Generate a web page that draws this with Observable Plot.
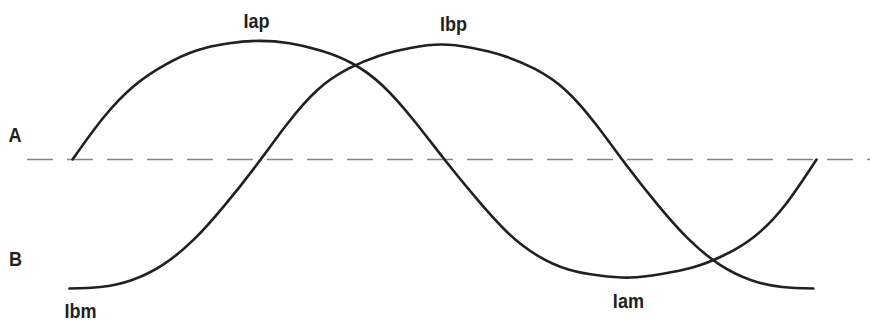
<!DOCTYPE html>
<html>
<head>
<meta charset="utf-8">
<script src="https://cdn.jsdelivr.net/npm/d3@7"></script>
<script src="https://cdn.jsdelivr.net/npm/@observablehq/plot@0.6"></script>
<style>
  html, body { margin: 0; padding: 0; background: #fff; }
  #chart svg { display: block; }
</style>
</head>
<body>
<div id="chart"></div>
<script>
// Phase angle (degrees) and normalised current, read every 15° along each wave
const iaDeg = [0, 15, 30, 45, 60, 75, 90, 105, 120, 135, 150, 165, 180, 195, 210, 225, 240, 255, 270, 285, 300, 315, 330, 345, 360];
const iaVal = [0, 0.353, 0.622, 0.798, 0.916, 0.975, 0.997, 0.977, 0.916, 0.811, 0.622, 0.332, 0, -0.319, -0.605, -0.807, -0.924, -0.975, -0.992, -0.962, -0.908, -0.807, -0.647, -0.378, 0];

const ibDeg = [-1.5, 13.5, 28.5, 43.5, 58.5, 73.5, 88.5, 103.5, 118.5, 133.5, 148.5, 163.5, 178.5, 193.5, 208.5, 223.5, 238.5, 253.5, 268.5, 283.5, 298.5, 313.5, 328.5, 343.5, 358.5];
const ibVal = [-1.084, -1.072, -1.014, -0.887, -0.676, -0.387, -0.059, 0.290, 0.584, 0.763, 0.872, 0.937, 0.966, 0.937, 0.872, 0.763, 0.584, 0.290, -0.059, -0.387, -0.676, -0.887, -1.014, -1.072, -1.084];

// Annotations
const labelText = ["Iap", "Ibp", "Iam", "Ibm", "A", "B"];
const labelDeg  = [89.0, 184.4, 269.0, 3.9, -27.8, -27.6];
const labelVal  = [1.101, 1.076, -1.244, -1.328, 0.151, -0.899];

const baseline = [0];

const ia = iaDeg.map((d, i) => ({deg: d, val: iaVal[i]}));
const ib = ibDeg.map((d, i) => ({deg: d, val: ibVal[i]}));
const labels = labelText.map((t, i) => ({t, deg: labelDeg[i], val: labelVal[i]}));

const ink = "#231f20";

const chart = Plot.plot({
  width: 870,
  height: 322,
  marginLeft: 27,
  marginRight: 0,
  marginTop: 0,
  marginBottom: 0,
  x: {domain: [0, 360], range: [72, 816], axis: null},
  y: {domain: [-1, 1], range: [278, 40], axis: null},
  style: {background: "#fff", overflow: "visible"},
  marks: [
    Plot.ruleY(baseline, {stroke: "#858585", strokeWidth: 1.6, strokeDasharray: "26,14"}),
    Plot.line(ia, {x: "deg", y: "val", curve: "natural", stroke: ink, strokeWidth: 2.6}),
    Plot.line(ib, {x: "deg", y: "val", curve: "natural", stroke: ink, strokeWidth: 2.6}),
    Plot.text(labels, {
      x: "deg", y: "val", text: "t",
      textAnchor: "middle", lineAnchor: "bottom",
      fill: ink, fontSize: 21, fontWeight: "bold",
      fontFamily: "'Liberation Sans', Arial, sans-serif"
    })
  ]
});

// Condense the label glyphs horizontally (the original uses a condensed bold face)
chart.querySelectorAll("text").forEach(t => {
  const tr = t.getAttribute("transform");
  if (tr) {
    t.setAttribute("transform", tr + " scale(0.86,1)");
  } else {
    const x = +t.getAttribute("x") || 0, y = +t.getAttribute("y") || 0;
    t.removeAttribute("x"); t.removeAttribute("y");
    t.setAttribute("transform", `translate(${x},${y}) scale(0.86,1)`);
  }
});

document.getElementById("chart").appendChild(chart);
</script>
</body>
</html>
